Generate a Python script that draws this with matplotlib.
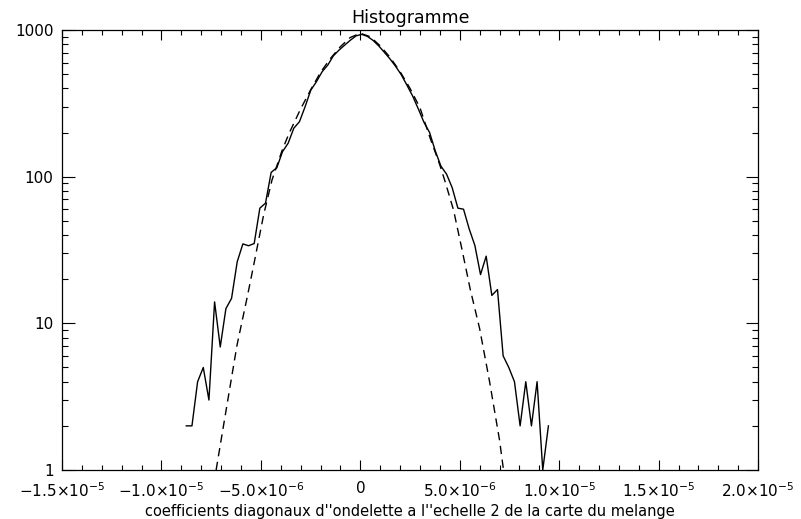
import numpy as np
import matplotlib
matplotlib.use('Agg')
from matplotlib import pyplot as plt
from matplotlib.ticker import FixedLocator, MultipleLocator, LogLocator, NullFormatter

# histogramme : centres des classes (debut, largeur) et effectifs
x_start = -8.75e-6
bin_width = 0.2845e-6
counts = [2, 2, 4, 5, 3, 14, 6.9, 12.6, 14.8, 26.3,
          34.8, 33.8, 35, 61, 66, 107, 115, 148, 169, 214,
          237, 300, 389, 444, 519, 576, 667, 730, 789, 852,
          912, 934, 905, 850, 780, 705, 635, 565, 495, 420,
          355, 290, 235, 200, 150, 118, 104, 84, 61, 60,
          44, 34, 21.5, 28.7, 15.5, 17, 6, 5, 4, 2,
          4, 2, 4, 1, 2]

# courbe en tirets (ajustement gaussien)
fit_x = [-7.25, -7.0, -6.7, -6.2, -5.7, -5.36, -4.86, -4.44, -3.94, -3.6,
         -3.0, -2.5, -2.0, -1.5, -1.0, -0.5, 0.0, 0.5, 1.0, 1.5,
         2.0, 2.5, 3.0, 3.5, 4.0, 4.27, 4.69, 5.11, 5.53, 6.0,
         6.5, 7.0, 7.2]
fit_y = [1.0, 1.6, 2.8, 7.1, 14.8, 25, 55, 95, 150, 195,
         290, 390, 515, 640, 770, 890, 950, 900, 780, 650,
         520, 400, 295, 185, 120, 92, 59, 32, 17, 9.2,
         4.0, 1.6, 1.0]

xticks = [-1.5e-5, -1.0e-5, -5.0e-6, 0, 5.0e-6, 1.0e-5, 1.5e-5, 2.0e-5]
xtick_labels = [r'$-1.5{\times}10^{-5}$', r'$-1.0{\times}10^{-5}$', r'$-5.0{\times}10^{-6}$', '0',
                r'$5.0{\times}10^{-6}$', r'$1.0{\times}10^{-5}$', r'$1.5{\times}10^{-5}$', r'$2.0{\times}10^{-5}$']
yticks = [1, 10, 100, 1000]
ytick_labels = ['1', '10', '100', '1000']

plt.rcParams['mathtext.fontset'] = 'dejavusans'

x = x_start + bin_width * np.arange(len(counts))

fig = plt.figure(figsize=(8.01, 5.19), dpi=100)
ax = fig.add_axes([0.0774, 0.0944, 0.869, 0.8478])

ax.plot(x, counts, color='black', lw=1.0)
ax.plot(np.array(fit_x) * 1e-6, fit_y, color='black', lw=1.0, dashes=(6, 4))

ax.set_yscale('log')
ax.set_xlim(-1.5e-5, 2.0e-5)
ax.set_ylim(1, 1000)

ax.xaxis.set_major_locator(FixedLocator(xticks))
ax.set_xticklabels(xtick_labels)
ax.xaxis.set_minor_locator(MultipleLocator(1e-6))
ax.yaxis.set_major_locator(FixedLocator(yticks))
ax.set_yticklabels(ytick_labels)
ax.yaxis.set_minor_locator(LogLocator(base=10, subs=np.arange(2, 10)))
ax.yaxis.set_minor_formatter(NullFormatter())

ax.tick_params(axis='both', which='both', direction='in', top=True, right=True,
               width=0.8, labelsize=11)
ax.tick_params(axis='x', which='major', length=7, pad=8)
ax.tick_params(axis='x', which='minor', length=3.5)
ax.tick_params(axis='y', which='major', length=9, pad=6)
ax.tick_params(axis='y', which='minor', length=4.5)
for s in ax.spines.values():
    s.set_linewidth(0.9)

ax.set_title('Histogramme', fontsize=12.5, pad=5)
ax.set_xlabel("coefficients diagonaux d''ondelette a l''echelle 2 de la carte du melange",
              fontsize=10.5, labelpad=3)

plt.savefig('out.png', dpi=100)
